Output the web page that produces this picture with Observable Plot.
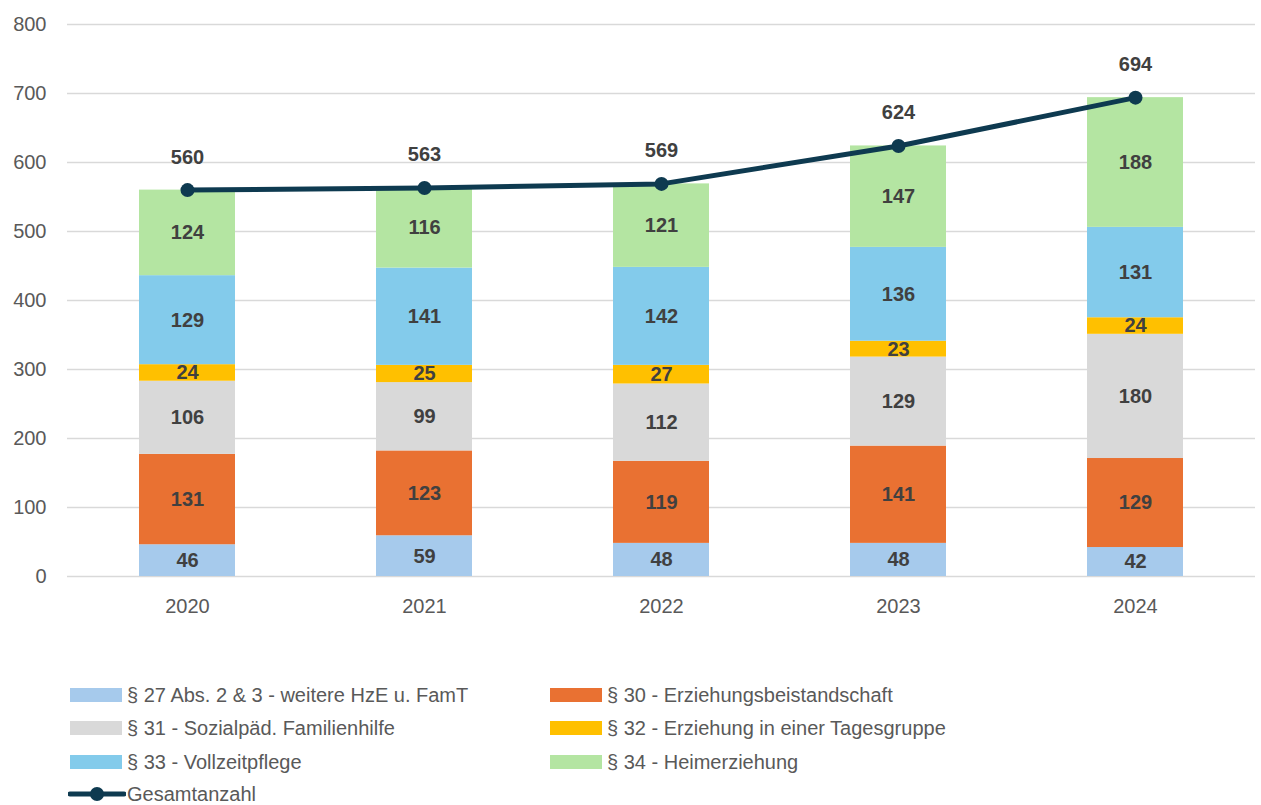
<!DOCTYPE html>
<html>
<head>
<meta charset="utf-8">
<script src="https://cdn.jsdelivr.net/npm/d3@7"></script>
<script src="https://cdn.jsdelivr.net/npm/@observablehq/plot@0.6"></script>
<style>
  body { margin: 0; background: #fff; font-family: "Liberation Sans", Arial, sans-serif; overflow: hidden; }
  #wrap { position: relative; width: 1261px; height: 805px; overflow: hidden; }
  #legend { position: absolute; left: 0; top: 0; width: 1261px; height: 805px; pointer-events: none; }
  .item { position: absolute; display: flex; align-items: center; font-size: 20px; line-height: 20px; height: 20px; color: #595959; white-space: nowrap; }
  .sw { width: 52px; height: 14px; margin-right: 5px; }
</style>
</head>
<body>
<div id="wrap">
  <div id="chart"></div>
  <div id="legend"></div>
</div>
<script>
const years = ["2020", "2021", "2022", "2023", "2024"];
const seriesNames = [
  "§ 27 Abs. 2 & 3 - weitere HzE u. FamT",
  "§ 30 - Erziehungsbeistandschaft",
  "§ 31 - Sozialpäd. Familienhilfe",
  "§ 32 - Erziehung in einer Tagesgruppe",
  "§ 33 - Vollzeitpflege",
  "§ 34 - Heimerziehung"
];
const seriesColors = ["#a6caec", "#e97132", "#d9d9d9", "#ffc000", "#83cbeb", "#b4e5a2"];
const s27 = [46, 59, 48, 48, 42];
const s30 = [131, 123, 119, 141, 129];
const s31 = [106, 99, 112, 129, 180];
const s32 = [24, 25, 27, 23, 24];
const s33 = [129, 141, 142, 136, 131];
const s34 = [124, 116, 121, 147, 188];
const totals = [560, 563, 569, 624, 694];
const totalName = "Gesamtanzahl";
const yTicks = [0, 100, 200, 300, 400, 500, 600, 700, 800];

const seriesValues = [s27, s30, s31, s32, s33, s34];
const stacked = [];
years.forEach((yr, i) => {
  seriesNames.forEach((s, j) => stacked.push({year: yr, series: s, value: seriesValues[j][i]}));
});
const totalData = years.map((yr, i) => ({year: yr, total: totals[i]}));

const chart = Plot.plot({
  width: 1261,
  height: 640,
  marginTop: 24,
  marginBottom: 64,
  marginLeft: 67,
  marginRight: 6,
  style: {fontFamily: "'Liberation Sans', Arial, sans-serif", fontSize: "20px", color: "#595959", background: "#fff"},
  x: {domain: years, paddingInner: 0.596, paddingOuter: 0.298, label: null, tickSize: 0, tickPadding: 22},
  y: {domain: [0, 800], ticks: yTicks, label: null, tickSize: 0, tickPadding: 21},
  color: {domain: seriesNames, range: seriesColors},
  marks: [
    Plot.ruleY(yTicks, {stroke: "#d9d9d9", strokeWidth: 1.5}),
    Plot.barY(stacked, {x: "year", y: "value", fill: "series", order: seriesNames}),
    Plot.text(stacked, Plot.stackY({x: "year", y: "value", z: "series", order: seriesNames, text: "value",
      fill: "#404040", fontWeight: "bold", fontSize: 20})),
    Plot.line(totalData, {x: "year", y: "total", stroke: "#0e3a50", strokeWidth: 5}),
    Plot.dot(totalData, {x: "year", y: "total", fill: "#0e3a50", r: 7}),
    Plot.text(totalData, {x: "year", y: "total", text: "total", dy: -33,
      fill: "#404040", fontWeight: "bold", fontSize: 20})
  ]
});
document.getElementById("chart").appendChild(chart);

const legend = document.getElementById("legend");
const pos = [[70, 695], [550, 695], [70, 728], [550, 728], [70, 762], [550, 762]];
seriesNames.forEach((s, j) => {
  const it = document.createElement("div");
  it.className = "item";
  it.style.left = pos[j][0] + "px";
  it.style.top = (pos[j][1] - 10) + "px";
  it.innerHTML = `<div class="sw" style="background:${seriesColors[j]}"></div><span>${s}</span>`;
  legend.appendChild(it);
});
const lt = document.createElement("div");
lt.className = "item";
lt.style.left = "68px";
lt.style.top = "784px";
lt.innerHTML = `<svg width="58" height="20" style="margin-right:1px"><line x1="2" y1="10" x2="56" y2="10" stroke="#0e3a50" stroke-width="5" stroke-linecap="round"/><circle cx="29" cy="10" r="7" fill="#0e3a50"/></svg><span>${totalName}</span>`;
legend.appendChild(lt);
</script>
</body>
</html>
